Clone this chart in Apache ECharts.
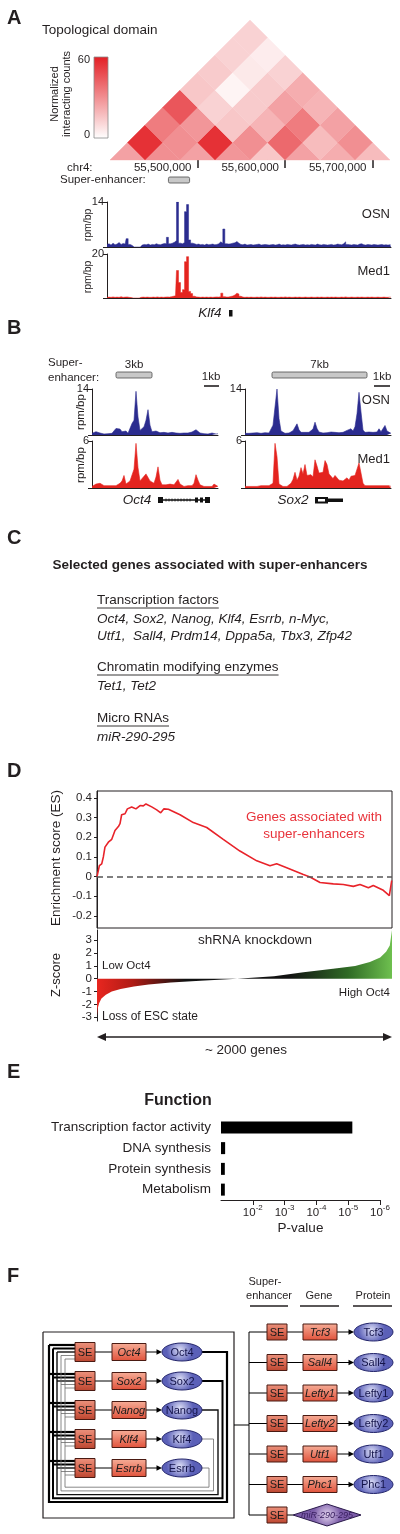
<!DOCTYPE html>
<html>
<head>
<meta charset="utf-8">
<script src="https://cdn.jsdelivr.net/npm/echarts@6.0.0/dist/echarts.min.js"></script>
<style>
html,body{margin:0;padding:0;background:#fff;}
#chart{width:400px;height:1534px;}
</style>
</head>
<body>
<div id="chart"></div>
<script>
const FONT = '"Liberation Sans", Arial, Helvetica, sans-serif';
const INK = '#231f20';
const OSN_COLOR = '#2b2c8f';
const MED1_COLOR = '#e4241f';

// ---------------- Panel A data ----------------
const HIC_START = 55400000;
const HIC_BIN = 40000;
const HIC_NBINS = 8;
const HIC_TICKS = [55500000, 55600000, 55700000];
const HIC_MAX = 60;
// interaction counts by diagonal offset d = j - i (cell i, i+d)
const HIC_D0 = [25, 30, 25, 28, 15, 25, 22, 18];
const HIC_D1 = [55, 30, 55, 30, 40, 18, 30];
const HIC_D2 = [35, 28, 15, 20, 35, 25];
const HIC_D3 = [45, 12, 14, 25, 20];
const HIC_D4 = [15, 3, 14, 22];
const HIC_D5 = [14, 6, 12];
const HIC_D6 = [12, 5];
const HIC_D7 = [12];

const A_OSN = [0.8,1.0,0.6,1.2,0.7,0.9,1.4,0.8,1.1,0.9,
2.6,0.8,0.5,0,0,0,0,0.6,0.8,0.7,
0.9,0.6,0.8,0.7,1.0,0.8,0.7,0.9,1.1,1.0,
3.0,1.0,1.2,1.5,2.0,14,1.2,1.0,1.4,11,
13.2,2.2,1.2,1.0,0.8,0.9,0.7,0.8,0.6,0.9,
0.7,0.8,0.9,0.7,0.8,1.0,1.6,1.2,5.6,1.0,
0.9,1.0,1.2,1.3,1.7,1.2,0.8,0.7,0.9,0.6,
0.7,0.8,0.6,0.7,0.8,0.9,0.6,0.7,0.8,0.7,
0.6,0.7,0.8,0.6,0.7,0.9,0.6,0.7,0.6,0.8,
0.7,0.6,0.8,0.9,0.7,0.6,0.7,0.8,0.6,0.7,
0.6,0.8,0.7,0.6,0.9,0.7,0.6,0.8,0.7,0.6,
0.7,0.8,0.6,0.7,0.9,0.8,0.7,1.0,1.6,0.8,
0.7,0.6,0.8,0.7,0.6,0.9,1.0,0.7,0.6,0.8,
0.7,0.6,0.8,0.7,0.6,0.7,0.8,0.6,0.7,0.6,
0.7,0.6];
const A_MED1 = [0.3,0.4,0.3,0.5,0.3,0.4,0.3,0.6,0.3,0.4,
0.5,0.3,0.2,0,0,0,0,0.3,0.4,0.3,
0.4,0.3,0.3,0.4,0.3,0.5,0.3,0.4,0.3,0.4,
0.5,0.4,0.6,0.8,1.0,12.5,7.0,2.5,3.8,16.5,
18.8,3.0,2.0,0.8,0.5,0.4,0.3,0.4,0.3,0.4,
0.3,0.4,0.3,0.4,0.5,0.4,0.6,2.2,0.6,0.4,
0.5,0.7,0.9,1.4,2.2,1.8,0.8,0.4,0.3,0.4,
0.3,0.4,0.3,0.3,0.4,0.3,0.5,0.3,0.4,0.3,
0.3,0.4,0.3,0.4,0.3,0.3,0.4,0.3,0.5,0.3,
0.4,0.3,0.3,0.4,0.3,0.4,0.3,0.3,0.4,0.3,
0.3,0.4,0.3,0.3,0.4,0.3,0.4,0.3,0.3,0.4,
0.3,0.4,0.3,0.4,0.3,0.3,0.4,0.3,0.5,0.3,
0.3,0.4,0.3,0.3,0.4,0.3,0.4,0.3,0.3,0.4,
0.3,0.4,0.3,0.3,0.4,0.3,0.3,0.4,0.3,0.3,
0.4,0.3];
const A_OSN_MAX = 14;
const A_MED1_MAX = 20;
const A_SE = [30.5, 41];

// ---------------- Panel B data ----------------
const B_OCT4_OSN = [0.5,0.9,1.0,0.8,0.6,0.4,0.3, 0.5,0.4,0.6,0.5, 1.0,2.0,2.6,1.8,1.0, 1.6,1.2, 0.5,0.6, 3.5,
4.5,13.3,5.5,1.4,1.3, 2.5,4.5,7.7,3.0,1.0, 0.8,1.2,1.6,0.7,0.6,
0.8,0.7,0.6,0.9,0.8,0.7,0.6,0.8,0.5,0.7,0.6,0.5,0.6,0.8,0.9,
1.2,1.6,1.3,0.6, 0.5,0.4,0.5,0.3,0.4,0.6,0.4,0.3,0.4];
const B_OCT4_MED1 = [0.2,0.3,0.5,0.4,0.6,0.4,0.3, 0.2,0.3,0.2,0.3,0.2,0.3,0.4, 0.6,0.9,1.6,0.5,
0.3,0.9,0.8,2.4,5.7,2.6, 0.9,0.7,1.5,1.8,1.6,0.9,1.1, 0.6,1.4,2.7,1.0,0.4,
0.3,0.4,0.3,0.5,0.3,0.4, 0.6,1.1,0.5,0.3,0.2,0.4,0.3,0.2,0.3, 0.6,1.7,1.0,0.4,
0.3,0.2,0.3,0.2,0.3,0.2,0.5,0.3,0.2];
const B_SOX2_OSN = [0.5,0.6,0.5,0.8,0.6,0.5,0.7,0.6,0.5,0.6,0.7,0.5,0.6,0.8,
3.0,8.5,14,5.0,1.2, 0.6,0.5,0.7,0.6,0.8, 1.3,1.8,3.4,1.6,0.8, 0.7,0.8,0.9,0.8,1.0,
1.8,3.9,2.0,0.9, 0.7,0.6,0.8,0.7,0.6,0.9,0.7,0.8,0.6,0.7,0.9,0.8,1.1,1.4,
1.3,1.9,1.2,2.5,6.5,13,7,1.5, 0.8,0.7,0.9,1.3,0.8,0.7,0.9, 1.9,1.0,1.6,2.9,1.2,0.6,0.5];
const B_SOX2_MED1 = [0.2,0.3,0.2,0.3,0.2,0.3,0.2,0.2,0.3,0.2,0.3,0.2,0.3,0.4,
0.6,5.7,4.0,0.5,0.3,0.2,0.3,0.2,0.4,
0.6,1.1,2.0,1.0,1.5,2.6,1.8,3.0,1.6,1.4,1.7,1.4,3.6,2.8,1.9,1.7,2.0,3.5,3.0,1.8,1.5,1.2,1.6,1.3,1.0,1.2,0.9,1.1,1.3,1.0,1.5,1.3,1.6,1.4,3.2,1.9,0.6,
0.3,0.2,0.3,0.2,0.3,0.2,0.3,0.4,0.3,0.5,0.3,0.2,0.3,0.2];
const B_OSN_MAX = 14;
const B_MED1_MAX = 6;
const B_OCT4_SE = [12, 30];
const B_SOX2_SE = [13.5, 61];
const B_SE_LABELS = ['3kb', '7kb'];

// ---------------- Panel C data ----------------
const C_TITLE = 'Selected genes associated with super-enhancers';
const C_GROUPS = ['Transcription factors', 'Chromatin modifying enzymes', 'Micro RNAs'];
const C_GENES = [
  ['Oct4, Sox2, Nanog, Klf4, Esrrb, n-Myc,', 'Utf1,  Sall4, Prdm14, Dppa5a, Tbx3, Zfp42'],
  ['Tet1, Tet2'],
  ['miR-290-295']
];

// ---------------- Panel D data ----------------
const N_GENES = 2000;
const ES_RANK = [0,9,16,32,43,54,77,100,111,122,145,156,167,190,206,235,264,292,314,332,371,405,432,454,484,563,653,744,856,969,1083,1173,1218,1286,1399,1444,1512,1602,1670,1738,1783,1840,1873,1941,1982,1998];
const ES_VAL = [0,0.03,0.056,0.065,0.1,0.15,0.175,0.19,0.2,0.235,0.255,0.27,0.315,0.32,0.345,0.355,0.345,0.362,0.36,0.37,0.355,0.34,0.325,0.345,0.343,0.315,0.275,0.25,0.19,0.13,0.08,0.055,0.065,0.045,0.01,-0.002,-0.03,-0.037,-0.04,-0.05,-0.04,-0.057,-0.045,-0.07,-0.097,-0.02];
const ES_TICKS = [-0.2, -0.1, 0, 0.1, 0.2, 0.3, 0.4];
const Z_RANK = [0,5,15,30,60,100,160,250,350,500,700,950,1200,1400,1600,1750,1850,1920,1960,1985,2000];
const Z_VAL = [-2.9,-2.3,-1.9,-1.55,-1.25,-1.0,-0.8,-0.6,-0.45,-0.3,-0.15,0,0.2,0.5,0.78,1.0,1.3,1.65,2.1,2.6,3.8];
const Z_TICKS = [-3, -2, -1, 0, 1, 2, 3];

// ---------------- Panel E data ----------------
const FUNC_CATS = ['Transcription factor activity', 'DNA synthesis', 'Protein synthesis', 'Metabolism'];
const FUNC_NEGLOGP = [5.13, 1.13, 1.12, 1.12];
const PV_TICKS = [2, 3, 4, 5, 6];

// ---------------- Panel F data ----------------
const CORE_TF = ['Oct4', 'Sox2', 'Nanog', 'Klf4', 'Esrrb'];
const TARGETS = ['Tcf3', 'Sall4', 'Lefty1', 'Lefty2', 'Utf1', 'Phc1'];
const MIRNA = 'miR-290-295';
const F_HEADERS = ['Gene', 'Protein'];

// =====================================================
const chart = echarts.init(document.getElementById('chart'), null, {renderer: 'canvas', width: 400, height: 1534});
const grids = [], xAxes = [], yAxes = [], series = [], G = [];

function addGrid(left, top, width, height, extra) {
  grids.push(Object.assign({left, top, width, height, containLabel: false, outerBoundsMode: 'none'}, extra || {}));
  return grids.length - 1;
}

// ---- heatmap (series 0) ----
const gHic = addGrid(110, 20, 280, 140);
xAxes.push({gridIndex: gHic, type: 'value', min: HIC_START, max: HIC_START + HIC_NBINS * HIC_BIN,
  position: 'bottom', offset: 4, axisLine: {show: false}, splitLine: {show: false},
  axisTick: {show: true, customValues: HIC_TICKS, length: 8, lineStyle: {color: INK, width: 1.5}},
  axisLabel: {show: true, customValues: HIC_TICKS, formatter: v => Number(v).toLocaleString('en-US'),
    align: 'right', padding: [0, 6, 0, 0], margin: -2, fontSize: 11.5, color: INK, fontFamily: FONT}});
yAxes.push({gridIndex: gHic, type: 'value', min: 0, max: HIC_NBINS / 2, show: false});
const hicData = [];
[HIC_D0, HIC_D1, HIC_D2, HIC_D3, HIC_D4, HIC_D5, HIC_D6, HIC_D7].forEach((row, d) =>
  row.forEach((v, i) => hicData.push([i, i + d, v])));
series.push({type: 'custom', xAxisIndex: 0, yAxisIndex: 0, data: hicData, silent: true,
  renderItem(params, api) {
    const i = api.value(0), j = api.value(1);
    const cx = HIC_START + (i + j + 1) / 2 * HIC_BIN;
    const cy = (j - i) / 2;
    const pts = [[cx - HIC_BIN / 2, cy], [cx, cy + 0.5], [cx + HIC_BIN / 2, cy], [cx, Math.max(0, cy - 0.5)]].map(p => api.coord(p));
    const c = api.visual('color');
    return {type: 'polygon', shape: {points: pts}, style: {fill: c, stroke: c, lineWidth: 0.4}};
  }});

// ---- track helper ----
function track(left, top, width, height, vals, max, color, lineW, step) {
  const gi = addGrid(left, top, width, height);
  xAxes.push({gridIndex: gi, type: 'value', min: 0, max: vals.length - 1,
    axisLine: {show: true, onZero: false, lineStyle: {color: INK, width: 1}}, axisTick: {show: false},
    axisLabel: {show: false}, splitLine: {show: false}});
  yAxes.push({gridIndex: gi, type: 'value', min: 0, max: max,
    axisLine: {show: true, lineStyle: {color: INK, width: 1}},
    axisTick: {show: true, length: 4, customValues: [0, max], lineStyle: {color: INK}},
    axisLabel: {show: true, customValues: [max], fontSize: 11, color: INK, fontFamily: FONT, margin: 3},
    splitLine: {show: false}});
  const xi = xAxes.length - 1, yi = yAxes.length - 1;
  series.push({type: 'line', xAxisIndex: xi, yAxisIndex: yi, data: vals.map((v, k) => [k, v]),
    step: step || false, symbol: 'none', silent: true, lineStyle: {color: color, width: lineW},
    areaStyle: {color: color, opacity: 1}});
  return [xi, yi];
}
function seBar(axes, range, ymax, gapAbove, label) {
  series.push({type: 'custom', xAxisIndex: axes[0], yAxisIndex: axes[1], clip: false, silent: true, data: [range],
    renderItem(params, api) {
      const a = api.coord([api.value(0), ymax]), b = api.coord([api.value(1), ymax]);
      const top = a[1] - gapAbove;
      const children = [{type: 'rect', shape: {x: a[0], y: top, width: b[0] - a[0], height: 6, r: 1.5},
        style: {fill: '#c8c8c8', stroke: '#4d4d4d', lineWidth: 0.8}}];
      if (label) children.push({type: 'text', x: (a[0] + b[0]) / 2, y: top - 7,
        style: {text: label, fill: INK, fontSize: 11.5, fontFamily: FONT, align: 'center', verticalAlign: 'middle'}});
      return {type: 'group', children};
    }});
}

// Panel A tracks
const axAosn = track(107, 202, 284, 45, A_OSN, A_OSN_MAX, OSN_COLOR, 0.5, 'middle');
track(107, 254, 284, 44, A_MED1, A_MED1_MAX, MED1_COLOR, 0.5, 'middle');
seBar(axAosn, A_SE, A_OSN_MAX, 25, null);

// Panel B tracks
const axOct4 = track(92, 389, 126, 46, B_OCT4_OSN, B_OSN_MAX, OSN_COLOR, 0.6);
track(92, 441, 126, 47, B_OCT4_MED1, B_MED1_MAX, MED1_COLOR, 0.6);
const axSox2 = track(245, 389, 146, 46, B_SOX2_OSN, B_OSN_MAX, OSN_COLOR, 0.6);
track(245, 441, 146, 47, B_SOX2_MED1, B_MED1_MAX, MED1_COLOR, 0.6);
seBar(axOct4, B_OCT4_SE, B_OSN_MAX, 17, B_SE_LABELS[0]);
seBar(axSox2, B_SOX2_SE, B_OSN_MAX, 17, B_SE_LABELS[1]);

// ---- Panel D: ES ----
const gES = addGrid(97, 791, 295, 137, {show: true, borderColor: INK, borderWidth: 1});
xAxes.push({gridIndex: gES, type: 'value', min: 0, max: N_GENES, show: false});
yAxes.push({gridIndex: gES, type: 'value', min: -0.262, max: 0.436,
  axisLine: {show: true, lineStyle: {color: INK, width: 1}},
  axisTick: {show: true, length: 3, customValues: ES_TICKS, lineStyle: {color: INK}},
  axisLabel: {show: true, customValues: ES_TICKS, formatter: v => (Math.abs(v) < 1e-9 ? '0' : Number(v).toFixed(1)),
    fontSize: 11.5, color: INK, fontFamily: FONT, margin: 5},
  splitLine: {show: false}});
series.push({type: 'line', xAxisIndex: xAxes.length - 1, yAxisIndex: yAxes.length - 1,
  data: ES_RANK.map((r, k) => [r, ES_VAL[k]]), symbol: 'none', silent: true,
  lineStyle: {color: '#e8232a', width: 1.6},
  markLine: {silent: true, symbol: 'none', data: [{yAxis: 0}], label: {show: false},
    lineStyle: {type: [6, 4], color: '#555', width: 1.5}}});

// ---- Panel D: Z-score ----
const gZ = addGrid(97, 930, 295, 91);
xAxes.push({gridIndex: gZ, type: 'value', min: 0, max: N_GENES, show: false});
yAxes.push({gridIndex: gZ, type: 'value', min: -3.3, max: 3.8,
  axisLine: {show: true, lineStyle: {color: INK, width: 1}},
  axisTick: {show: true, length: 3, customValues: Z_TICKS, lineStyle: {color: INK}},
  axisLabel: {show: true, customValues: Z_TICKS, fontSize: 11.5, color: INK, fontFamily: FONT, margin: 5},
  splitLine: {show: false}});
series.push({type: 'line', xAxisIndex: xAxes.length - 1, yAxisIndex: yAxes.length - 1,
  data: Z_RANK.map((r, k) => [r, Z_VAL[k]]), symbol: 'none', silent: true,
  lineStyle: {width: 0, opacity: 0},
  areaStyle: {opacity: 1, color: {type: 'linear', x: 0, y: 0, x2: 1, y2: 0, colorStops: [
    {offset: 0, color: '#e8261f'}, {offset: 0.12, color: '#b01c15'}, {offset: 0.3, color: '#111'},
    {offset: 0.65, color: '#111'}, {offset: 0.85, color: '#2f6a25'}, {offset: 1, color: '#6ec04f'}]}}});

// ---- Panel E ----
const gE = addGrid(221, 1117, 159, 83);
xAxes.push({gridIndex: gE, type: 'value', min: 1, max: 6,
  axisLine: {show: true, lineStyle: {color: INK, width: 1}},
  axisTick: {show: true, length: 5, customValues: PV_TICKS, lineStyle: {color: INK}},
  axisLabel: {show: true, customValues: PV_TICKS, margin: 4, formatter: v => '{b|10}{s|-' + v + '}',
    rich: {b: {fontSize: 11.5, fontFamily: FONT, color: INK, lineHeight: 15, verticalAlign: 'bottom'},
           s: {fontSize: 8, fontFamily: FONT, color: INK, lineHeight: 15, verticalAlign: 'top'}}},
  splitLine: {show: false},
  name: 'P-value', nameLocation: 'middle', nameGap: 21,
  nameTextStyle: {fontSize: 13.5, color: INK, fontFamily: FONT}});
yAxes.push({gridIndex: gE, type: 'category', data: FUNC_CATS, inverse: true,
  axisLine: {show: false}, axisTick: {show: false},
  axisLabel: {fontSize: 13.5, color: INK, fontFamily: FONT, margin: 10}});
series.push({type: 'bar', xAxisIndex: xAxes.length - 1, yAxisIndex: yAxes.length - 1,
  data: FUNC_NEGLOGP, barWidth: 12, silent: true, itemStyle: {color: '#000'}});

// ---- Panel F (diagram on its own layout grid) ----
const gF = addGrid(0, 1234, 400, 300);
xAxes.push({gridIndex: gF, type: 'value', min: 0, max: 400, show: false});
yAxes.push({gridIndex: gF, type: 'value', min: 0, max: 300, inverse: true, show: false});
const F_LW = [2.2, 2.0, 1.4, 0.8, 0.8];
const F_LC = ['#000', '#000', '#111', '#6b6b6b', '#6b6b6b'];
const lRowY = i => 118 + 29 * i;
const rRowY = j => 98 + 30.5 * j;
const fLines = [], fNodes = [];
fLines.push({pts: [[43, 98], [234, 98], [234, 284], [43, 284], [43, 98]], w: 1.2, c: INK});
CORE_TF.forEach((name, i) => {
  const y = lRowY(i), xr = 227 - 4.5 * i, yb = 268 - 3.7 * i, xl = 49 + 4 * i;
  const yIn = r => lRowY(r) - 7 + 3.5 * i;
  fLines.push({pts: [[202, y], [xr, y], [xr, yb], [xl, yb], [xl, yIn(0)]], w: F_LW[i], c: F_LC[i]});
  CORE_TF.forEach((_, r) => fLines.push({pts: [[xl, yIn(r)], [75, yIn(r)]], w: F_LW[i], c: F_LC[i]}));
});
CORE_TF.forEach((name, i) => {
  const y = lRowY(i);
  fLines.push({pts: [[95, y], [112, y]], w: 1, c: '#000'});
  fLines.push({pts: [[146, y], [162, y]], w: 1, c: '#000', arrow: true});
  fNodes.push({t: 'se', x0: 75, x1: 95, y, h: 19});
  fNodes.push({t: 'gene', x0: 112, x1: 146, y, h: 17, text: name});
  fNodes.push({t: 'prot', cx: 182, y, rx: 20, ry: 9, text: name});
});
const allTargets = TARGETS.concat([MIRNA]);
fLines.push({pts: [[234, 191], [249, 191]], w: 1, c: '#000'});
fLines.push({pts: [[249, rRowY(0)], [249, rRowY(allTargets.length - 1)]], w: 1, c: '#000'});
allTargets.forEach((name, j) => {
  const y = rRowY(j);
  fLines.push({pts: [[249, y], [267, y]], w: 1, c: '#000'});
  fNodes.push({t: 'se', x0: 267, x1: 287, y, h: 16});
  if (j < TARGETS.length) {
    fLines.push({pts: [[287, y], [303, y]], w: 1, c: '#000'});
    fLines.push({pts: [[337, y], [354, y]], w: 1, c: '#000', arrow: true});
    fNodes.push({t: 'gene', x0: 303, x1: 337, y, h: 16, text: name});
    fNodes.push({t: 'prot', cx: 373.5, y, rx: 19.5, ry: 9, text: name});
  } else {
    fLines.push({pts: [[287, y], [293, y]], w: 1, c: '#000'});
    fNodes.push({t: 'mir', cx: 327, y, hw: 34, hh: 11, text: name});
  }
});
const F_ELEMS = fLines.concat(fNodes);
const SE_FILL = {type: 'linear', x: 0, y: 0, x2: 0, y2: 1, colorStops: [
  {offset: 0, color: '#ea937e'}, {offset: 0.5, color: '#dc6a54'}, {offset: 1, color: '#b9452f'}]};
const GENE_FILL = {type: 'linear', x: 0, y: 0, x2: 0, y2: 1, colorStops: [
  {offset: 0, color: '#f6ae98'}, {offset: 1, color: '#e0513a'}]};
const PROT_FILL = {type: 'radial', x: 0.45, y: 0.4, r: 0.7, colorStops: [
  {offset: 0, color: '#dcdef6'}, {offset: 1, color: '#5b60b8'}]};
const MIR_FILL = {type: 'radial', x: 0.5, y: 0.5, r: 0.6, colorStops: [
  {offset: 0, color: '#e4d6ef'}, {offset: 1, color: '#7b5ca8'}]};
series.push({type: 'custom', xAxisIndex: xAxes.length - 1, yAxisIndex: yAxes.length - 1, silent: true,
  data: F_ELEMS.map((_, k) => [k, 0]),
  renderItem(params, api) {
    const e = F_ELEMS[params.dataIndex];
    const C = p => api.coord(p);
    if (e.pts) {
      const pts = e.pts.map(C);
      if (!e.arrow) return {type: 'polyline', shape: {points: pts}, style: {stroke: e.c, lineWidth: e.w, fill: 'none'}};
      const [x, y] = pts[pts.length - 1];
      return {type: 'group', children: [
        {type: 'polyline', shape: {points: [pts[0], [x - 4, y]]}, style: {stroke: e.c, lineWidth: e.w, fill: 'none'}},
        {type: 'polygon', shape: {points: [[x, y], [x - 5.5, y - 2.8], [x - 5.5, y + 2.8]]}, style: {fill: e.c}}]};
    }
    if (e.t === 'se' || e.t === 'gene') {
      const a = C([e.x0, e.y - e.h / 2]), b = C([e.x1, e.y + e.h / 2]);
      return {type: 'group', children: [
        {type: 'rect', shape: {x: a[0], y: a[1], width: b[0] - a[0], height: b[1] - a[1]},
          style: {fill: e.t === 'se' ? SE_FILL : GENE_FILL, stroke: '#4a1a12', lineWidth: 1}},
        {type: 'text', x: (a[0] + b[0]) / 2, y: (a[1] + b[1]) / 2 + 0.5,
          style: {text: e.t === 'se' ? 'SE' : e.text, fill: '#1a1a1a', fontSize: 11, fontFamily: FONT,
            fontStyle: e.t === 'gene' ? 'italic' : 'normal', align: 'center', verticalAlign: 'middle'}}]};
    }
    if (e.t === 'prot') {
      const c = C([e.cx, e.y]), r = C([e.cx + e.rx, e.y + e.ry]);
      return {type: 'group', children: [
        {type: 'ellipse', shape: {cx: c[0], cy: c[1], rx: r[0] - c[0], ry: r[1] - c[1]},
          style: {fill: PROT_FILL, stroke: '#22246a', lineWidth: 1}},
        {type: 'text', x: c[0], y: c[1] + 0.5, style: {text: e.text, fill: '#14144a', fontSize: 11, fontFamily: FONT,
          align: 'center', verticalAlign: 'middle'}}]};
    }
    if (e.t === 'mir') {
      const pts = [[e.cx - e.hw, e.y], [e.cx, e.y - e.hh], [e.cx + e.hw, e.y], [e.cx, e.y + e.hh]].map(C);
      const c = C([e.cx, e.y]);
      return {type: 'group', children: [
        {type: 'polygon', shape: {points: pts}, style: {fill: MIR_FILL, stroke: '#2a1a4a', lineWidth: 1}},
        {type: 'text', x: c[0], y: c[1] + 0.5, style: {text: e.text, fill: '#3a2060', fontSize: 9, fontFamily: FONT,
          fontStyle: 'italic', align: 'center', verticalAlign: 'middle'}}]};
    }
    return null;
  }});

// ================= graphic texts & decorations =================
function T(x, y, text, o) {
  o = o || {};
  G.push({type: 'text', x, y, rotation: o.rot || 0, silent: true, z: 100,
    style: {text, fill: o.color || INK, fontSize: o.size || 13.5, fontFamily: FONT,
      fontWeight: o.bold ? 'bold' : 'normal', fontStyle: o.italic ? 'italic' : 'normal',
      align: o.align || 'left', verticalAlign: 'middle'}});
}
function L(x1, y1, x2, y2, w, c) {
  G.push({type: 'line', silent: true, z: 100, shape: {x1, y1, x2, y2}, style: {stroke: c || INK, lineWidth: w || 1}});
}
function R(x, y, w, h, fill) {
  G.push({type: 'rect', silent: true, z: 100, shape: {x, y, width: w, height: h}, style: {fill}});
}
const ROT = Math.PI / 2;
const measure = (() => { const ctx = document.createElement('canvas').getContext('2d');
  return (t, size) => { ctx.font = size + 'px ' + FONT; return ctx.measureText(t).width; }; })();

// Panel letters
[['A', 18.5], ['B', 328.5], ['C', 538.5], ['D', 771], ['E', 1072.5], ['F', 1276]].forEach(([l, y]) =>
  T(7, y, l, {size: 20, bold: true}));

// A
T(42, 30, 'Topological domain', {size: 13.5});
G.push({type: 'rect', silent: true, shape: {x: 94, y: 57, width: 14, height: 81},
  style: {fill: {type: 'linear', x: 0, y: 0, x2: 0, y2: 1, colorStops: [{offset: 0, color: '#e31e24'}, {offset: 1, color: '#ffffff'}]},
    stroke: '#8a8a8a', lineWidth: 0.8}});
T(90, 60, String(HIC_MAX), {size: 11, align: 'right'});
T(90, 135, '0', {size: 11, align: 'right'});
T(55, 94, 'Normalized', {size: 11, align: 'center', rot: ROT});
T(67, 94, 'interacting counts', {size: 11, align: 'center', rot: ROT});
T(67, 168, 'chr4:', {size: 11.5});
T(60, 180, 'Super-enhancer:', {size: 11.5});
T(88, 225, 'rpm/bp', {size: 10.5, align: 'center', rot: ROT});
T(88, 277, 'rpm/bp', {size: 10.5, align: 'center', rot: ROT});
T(390, 214, 'OSN', {size: 13, align: 'right'});
T(390, 271, 'Med1', {size: 13, align: 'right'});
T(210, 313, 'Klf4', {size: 13.5, italic: true, align: 'center'});
R(229, 310, 3.5, 6.5, '#111');

// B
T(48, 363, 'Super-', {size: 11.5});
T(48, 378, 'enhancer:', {size: 11.5});
T(211, 377, '1kb', {size: 11.5, align: 'center'}); L(204, 386, 219, 386, 1.6);
T(382, 377, '1kb', {size: 11.5, align: 'center'}); L(374, 386, 390, 386, 1.6);
T(81, 412, 'rpm/bp', {size: 11.5, align: 'center', rot: ROT});
T(81, 465, 'rpm/bp', {size: 11.5, align: 'center', rot: ROT});
T(390, 400, 'OSN', {size: 13, align: 'right'});
T(390, 459, 'Med1', {size: 13, align: 'right'});
T(137, 500, 'Oct4', {size: 13.5, italic: true, align: 'center'});
T(293, 500, 'Sox2', {size: 13.5, italic: true, align: 'center'});
L(158, 500, 210, 500, 1.3, '#111');
R(158, 497, 5, 6, '#111'); R(195, 497.5, 3, 5, '#111'); R(200, 497.5, 3, 5, '#111'); R(205, 497, 5, 6, '#111');
for (let x = 166; x <= 192; x += 3) L(x, 498.5, x, 501.5, 0.8, '#111');
R(315, 497, 13, 6.5, '#111'); R(318, 499, 7, 2.5, '#fff'); R(328, 498.5, 15, 3.5, '#111');

// C
T(210, 565, C_TITLE, {size: 13.5, bold: true, align: 'center'});
const cHeadY = [600, 667, 718];
C_GROUPS.forEach((g, k) => {
  T(97, cHeadY[k], g, {size: 13.5});
  L(97, cHeadY[k] + 8, 97 + measure(g, 13.5), cHeadY[k] + 8, 0.9);
  C_GENES[k].forEach((line, m) => T(97, cHeadY[k] + 19 + m * 17, line, {size: 13.5, italic: true}));
});

// D
T(56, 858, 'Enrichment score (ES)', {size: 13.5, align: 'center', rot: ROT});
T(314, 817, 'Genes associated with', {size: 13.5, align: 'center', color: '#e8333b'});
T(314, 834, 'super-enhancers', {size: 13.5, align: 'center', color: '#e8333b'});
T(56, 975, 'Z-score', {size: 13, align: 'center', rot: ROT});
T(255, 940, 'shRNA knockdown', {size: 13.5, align: 'center'});
T(102, 966, 'Low Oct4', {size: 11.5});
T(102, 1017, 'Loss of ESC state', {size: 12});
T(390, 993, 'High Oct4', {size: 11.5, align: 'right'});
L(103, 1037, 386, 1037, 1.5);
G.push({type: 'polygon', silent: true, shape: {points: [[97, 1037], [106, 1033], [106, 1041]]}, style: {fill: INK}});
G.push({type: 'polygon', silent: true, shape: {points: [[392, 1037], [383, 1033], [383, 1041]]}, style: {fill: INK}});
T(246, 1050, '~ ' + N_GENES + ' genes', {size: 13.5, align: 'center'});

// E
T(178, 1101, 'Function', {size: 16, bold: true, align: 'center'});

// F headers
T(265, 1282, 'Super-', {size: 11, align: 'center'});
T(269, 1296, 'enhancer', {size: 11, align: 'center'});
T(319, 1296, F_HEADERS[0], {size: 11, align: 'center'});
T(373, 1296, F_HEADERS[1], {size: 11, align: 'center'});
L(250, 1306, 288, 1306, 1.5); L(300, 1306, 339, 1306, 1.5); L(353, 1306, 392, 1306, 1.5);

chart.setOption({
  animation: false,
  backgroundColor: '#ffffff',
  textStyle: {fontFamily: FONT, color: INK},
  tooltip: {show: false},
  grid: grids,
  xAxis: xAxes,
  yAxis: yAxes,
  visualMap: [{type: 'continuous', show: false, min: 0, max: HIC_MAX, dimension: 2, seriesIndex: 0,
    inRange: {color: ['#ffffff', '#e31e24']}}],
  series: series,
  graphic: {elements: G}
});
</script>
</body>
</html>
